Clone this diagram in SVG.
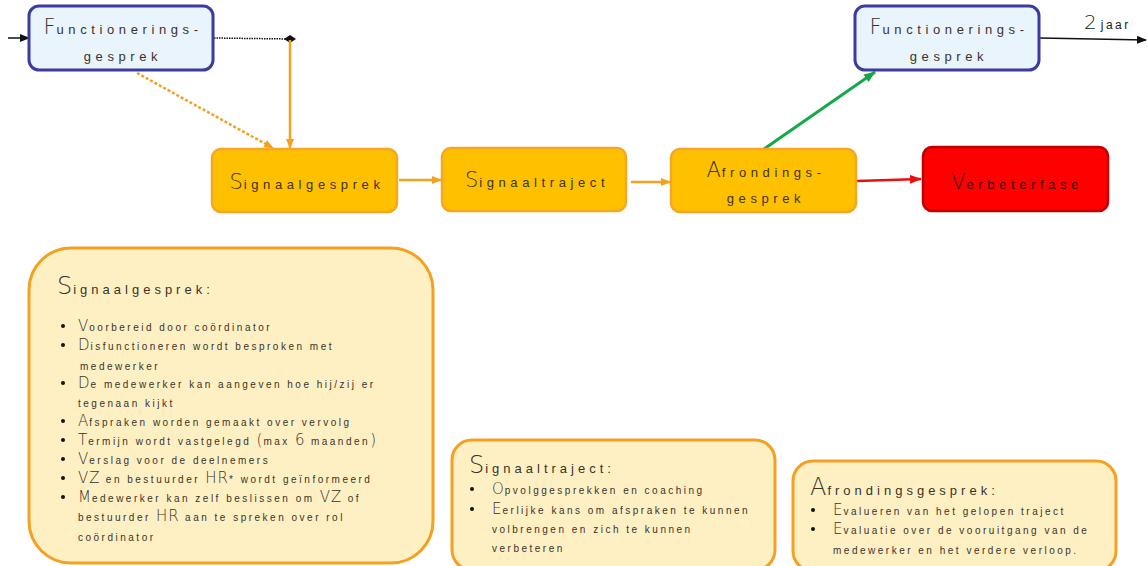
<svg xmlns="http://www.w3.org/2000/svg" width="1148" height="566" viewBox="0 0 1148 566">
<style>
text{font-family:"Liberation Sans","DejaVu Sans",sans-serif;fill:#3a3328}
.nl{font-size:13px;letter-spacing:4.6px;text-anchor:middle}
.cap{font-family:"DejaVu Sans",sans-serif;font-weight:200;font-size:21px;letter-spacing:1px}
.ttl{font-size:13px;letter-spacing:4px}
.tcap{font-family:"DejaVu Sans",sans-serif;font-weight:200;font-size:24px;letter-spacing:1px}
.b{font-size:10px;letter-spacing:2.5px}
.bc{font-family:"DejaVu Sans",sans-serif;font-weight:200;font-size:15px;letter-spacing:1px}
.func{fill:#eaf4fd;stroke:#3b3ba0;stroke-width:3}
.org{fill:#ffc000;stroke:#f5a623;stroke-width:2.5}
.card{fill:#fff0c4;stroke:#f5a020;stroke-width:3}
.dot{fill:#111}
</style>
<defs>
<marker id="ab" markerWidth="10" markerHeight="8" refX="9" refY="4" orient="auto" markerUnits="userSpaceOnUse"><path d="M0,0 L10,4 L0,8 Z" fill="#111"/></marker>
<marker id="ao" markerWidth="10" markerHeight="8" refX="9" refY="4" orient="auto" markerUnits="userSpaceOnUse"><path d="M0,0 L10,4 L0,8 Z" fill="#f5a020"/></marker>
<marker id="ar" markerWidth="12" markerHeight="9" refX="11" refY="4.5" orient="auto" markerUnits="userSpaceOnUse"><path d="M0,0 L12,4.5 L0,9 Z" fill="#e81010"/></marker>
<marker id="ag" markerWidth="12" markerHeight="9" refX="11" refY="4.5" orient="auto" markerUnits="userSpaceOnUse"><path d="M0,0 L12,4.5 L0,9 Z" fill="#14a84a"/></marker>
</defs>
<rect width="1148" height="566" fill="#ffffff"/>

<g id="connectors" fill="none">
<line x1="8" y1="38" x2="29" y2="38" stroke="#111" stroke-width="1.5" marker-end="url(#ab)"/>
<line x1="214" y1="38" x2="290" y2="39" stroke="#111" stroke-width="1.5" stroke-dasharray="1.5,1"/>
<path d="M284,39 L290,35 L296,39 L290,43 Z" fill="#111" stroke="none"/>
<line x1="290" y1="40" x2="290" y2="148" stroke="#f5a020" stroke-width="2.5" marker-end="url(#ao)"/>
<line x1="137" y1="73" x2="273" y2="148" stroke="#f5a020" stroke-width="2.5" stroke-dasharray="3,2" marker-end="url(#ao)"/>
<line x1="399" y1="180" x2="441" y2="180" stroke="#f5a020" stroke-width="2.5" marker-end="url(#ao)"/>
<line x1="631" y1="182" x2="670" y2="182" stroke="#f5a020" stroke-width="2.5" marker-end="url(#ao)"/>
<line x1="857" y1="181" x2="921" y2="179" stroke="#e81010" stroke-width="2.5" marker-end="url(#ar)"/>
<line x1="764" y1="149" x2="875" y2="72" stroke="#14a84a" stroke-width="3" marker-end="url(#ag)"/>
<line x1="1040" y1="38" x2="1146" y2="40" stroke="#111" stroke-width="1.5" marker-end="url(#ab)"/>
<text x="1084" y="29" style="font-family:'DejaVu Sans',sans-serif;font-weight:200;font-size:20px;letter-spacing:1px;fill:#222">2<tspan style="font-family:'Liberation Sans',sans-serif;font-weight:400;font-size:12px;letter-spacing:2.5px" dx="3">jaar</tspan></text>
</g>

<g id="func1">
<rect class="func" x="29" y="6" width="184" height="64" rx="10"/>
<text class="nl" x="123" y="34"><tspan class="cap">F</tspan>unctionerings-</text>
<text class="nl" x="123" y="61">gesprek</text>
</g>

<g id="func2">
<rect class="func" x="855" y="6" width="184" height="64" rx="10"/>
<text class="nl" x="949" y="34"><tspan class="cap">F</tspan>unctionerings-</text>
<text class="nl" x="949" y="61">gesprek</text>
</g>

<g id="signaalgesprek">
<rect class="org" x="212" y="149" width="185" height="63" rx="9"/>
<text class="nl" x="307" y="189"><tspan class="cap">S</tspan>ignaalgesprek</text>
</g>

<g id="signaaltraject">
<rect class="org" x="442" y="148" width="184" height="63" rx="9"/>
<text class="nl" x="537" y="187"><tspan class="cap">S</tspan>ignaaltraject</text>
</g>

<g id="afrondingsgesprek">
<rect class="org" x="671" y="149" width="185" height="63" rx="9"/>
<text class="nl" x="766" y="177"><tspan class="cap">A</tspan>frondings-</text>
<text class="nl" x="766" y="203">gesprek</text>
</g>

<g id="verbeterfase">
<rect x="923" y="147" width="185" height="64" rx="9" fill="#ff0000" stroke="#c00000" stroke-width="2.5"/>
<text class="nl" x="1017" y="189" style="fill:#3a0a0a"><tspan class="cap" style="fill:#3a0a0a">V</tspan>erbeterfase</text>
</g>

<g id="card-signaalgesprek">
<rect class="card" x="29" y="248" width="404" height="315" rx="42"/>
<text class="ttl" x="57" y="294"><tspan class="tcap">S</tspan>ignaalgesprek:</text>
<circle class="dot" cx="63" cy="326" r="2"/>
<text class="b" x="78" y="331"><tspan class="bc">V</tspan>oorbereid door coördinator</text>
<circle class="dot" cx="63" cy="345" r="2"/>
<text class="b" x="78" y="350"><tspan class="bc">D</tspan>isfunctioneren wordt besproken met</text>
<text class="b" x="80" y="370">medewerker</text>
<circle class="dot" cx="63" cy="383" r="2"/>
<text class="b" x="78" y="388"><tspan class="bc">D</tspan>e medewerker kan aangeven hoe hij/zij er</text>
<text class="b" x="78" y="407">tegenaan kijkt</text>
<circle class="dot" cx="63" cy="421" r="2"/>
<text class="b" x="78" y="426"><tspan class="bc">A</tspan>fspraken worden gemaakt over vervolg</text>
<circle class="dot" cx="63" cy="440" r="2"/>
<text class="b" x="78" y="445"><tspan class="bc">T</tspan>ermijn wordt vastgelegd <tspan class="bc">(</tspan>max <tspan class="bc">6</tspan> maanden<tspan class="bc">)</tspan></text>
<circle class="dot" cx="63" cy="459" r="2"/>
<text class="b" x="78" y="464"><tspan class="bc">V</tspan>erslag voor de deelnemers</text>
<circle class="dot" cx="63" cy="478" r="2"/>
<text class="b" x="78" y="483"><tspan class="bc">VZ</tspan> en bestuurder <tspan class="bc">HR</tspan>* wordt geïnformeerd</text>
<circle class="dot" cx="63" cy="497" r="2"/>
<text class="b" x="78" y="502"><tspan class="bc">M</tspan>edewerker kan zelf beslissen om <tspan class="bc">VZ</tspan> of</text>
<text class="b" x="78" y="521">bestuurder <tspan class="bc">HR</tspan> aan te spreken over rol</text>
<text class="b" x="78" y="541">coördinator</text>
</g>

<g id="card-signaaltraject">
<rect class="card" x="452" y="440" width="323" height="130" rx="20"/>
<text class="ttl" x="469" y="473"><tspan class="tcap">S</tspan>ignaaltraject:</text>
<circle class="dot" cx="472" cy="489" r="2"/>
<text class="b" x="492" y="494"><tspan class="bc">O</tspan>pvolggesprekken en coaching</text>
<circle class="dot" cx="472" cy="509" r="2"/>
<text class="b" x="492" y="514"><tspan class="bc">E</tspan>erlijke kans om afspraken te kunnen</text>
<text class="b" x="492" y="533">volbrengen en zich te kunnen</text>
<text class="b" x="492" y="552">verbeteren</text>
</g>

<g id="card-afrondingsgesprek">
<rect class="card" x="793" y="461" width="323" height="110" rx="20"/>
<text class="ttl" x="810" y="495"><tspan class="tcap">A</tspan>frondingsgesprek:</text>
<circle class="dot" cx="813" cy="510" r="2"/>
<text class="b" x="833" y="515"><tspan class="bc">E</tspan>valueren van het gelopen traject</text>
<circle class="dot" cx="813" cy="529" r="2"/>
<text class="b" x="833" y="534"><tspan class="bc">E</tspan>valuatie over de vooruitgang van de</text>
<text class="b" x="833" y="554">medewerker en het verdere verloop.</text>
</g>
</svg>
